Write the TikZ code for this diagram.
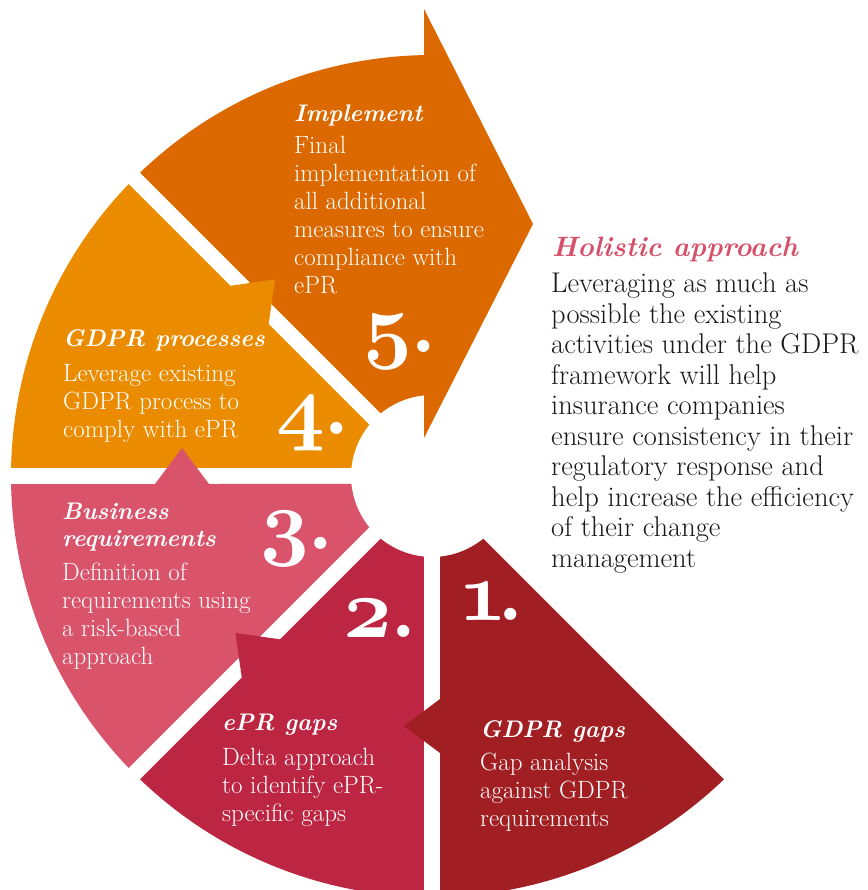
\documentclass[tikz,border=0pt]{standalone}
\usepackage{xcolor}
\usepackage{tikz}
\definecolor{gapscolor}{RGB}{161, 31, 35}
\definecolor{eprcolor}{RGB}{188, 38, 66}
\definecolor{businesscolor}{RGB}{217, 83, 107}
\definecolor{processcolor}{RGB}{235, 140, 0}
\definecolor{implementcolor}{RGB}{220, 105, 0}
\definecolor{holisticcolor}{RGB}{214, 80, 105}
\definecolor{notecolor}{RGB}{25, 25, 25}
% old style figures for the stage numbers
\font\stagedigits=cmmib10 at 85pt

\begin{document}
\begin{tikzpicture}[
    x=1pt, y=1pt,
    stagetitle/.style={anchor=base west, inner sep=0pt, align=left, text=white, font=\fontsize{24}{27}\selectfont\bfseries\itshape},
    stagetext/.style={anchor=base west, inner sep=0pt, align=left, text=white, font=\fontsize{25}{28}\selectfont},
    stagenum/.style={anchor=base west, inner sep=0pt, text=white, font=\fontsize{85}{85}\selectfont\bfseries},
    notetitle/.style={anchor=base west, inner sep=0pt, text=holisticcolor, font=\fontsize{28}{30}\selectfont\bfseries\itshape},
    notetext/.style={anchor=base west, inner sep=0pt, align=left, text=notecolor, font=\fontsize{28.5}{30.5}\selectfont},
]
    \useasboundingbox (-432,-414) rectangle (435,476);

    % Stage 5 with the big arrow head
    \fill[implementcolor, rotate=90] (1.09:421) arc[start angle=1.09, end angle=43.91, radius=421]
        -- (39.33:81) arc[start angle=39.33, end angle=5.67, radius=81] -- cycle
        (38,8) -- (467,8) -- (252,-101) -- cycle;

    % Stage 4
    \fill[processcolor, rotate=135] (1.09:421) arc[start angle=1.09, end angle=43.91, radius=421]
        -- (39.33:81) arc[start angle=39.33, end angle=5.67, radius=81] -- cycle
        (223,8) -- (277,8) -- (250,-28) -- cycle;

    % Stage 3
    \fill[businesscolor, rotate=180] (1.09:421) arc[start angle=1.09, end angle=43.91, radius=421]
        -- (39.33:81) arc[start angle=39.33, end angle=5.67, radius=81] -- cycle
        (223,8) -- (277,8) -- (250,-28) -- cycle;

    % Stage 2
    \fill[eprcolor, rotate=225] (1.09:421) arc[start angle=1.09, end angle=43.91, radius=421]
        -- (39.33:81) arc[start angle=39.33, end angle=5.67, radius=81] -- cycle
        (223,8) -- (277,8) -- (250,-28) -- cycle;

    % Stage 1
    \fill[gapscolor, rotate=-90] (1.09:421) arc[start angle=1.09, end angle=43.91, radius=421]
        -- (39.33:81) arc[start angle=39.33, end angle=5.67, radius=81] -- cycle
        (223,8) -- (277,8) -- (250,-28) -- cycle;

    % Stage labels (base is the last line of each block)
    \node[stagetitle] (implement) at (-138, 354) {Implement};
    \node[stagetext] (implementtext) at (-138, 182) {Final\\implementation of\\all additional\\measures to ensure\\compliance with\\ePR};
    \node[stagenum] (implementnum) at (-69, 123) {{\stagedigits 5}\kern-2pt.};

    \node[stagetitle] (processes) at (-369, 129) {GDPR processes};
    \node[stagetext] (processestext) at (-369, 38) {Leverage existing\\GDPR process to\\comply with ePR};
    \node[stagenum] (processesnum) at (-156, 41) {{\stagedigits 4}\kern-2pt.};

    \node[stagetitle] (business) at (-370, -71) {Business\\requirements};
    \node[stagetext] (businesstext) at (-370, -188) {Definition of\\requirements using\\a risk-based\\approach};
    \node[stagenum] (businessnum) at (-172, -74) {{\stagedigits 3}\kern-2pt.};

    \node[stagetitle] (eprgaps) at (-210, -254) {ePR gaps};
    \node[stagetext] (eprgapstext) at (-210, -345) {Delta approach\\to identify ePR-\\specific gaps};
    \node[stagenum] (eprgapsnum) at (-89, -161) {{\stagedigits 2}\kern-2pt.};

    \node[stagetitle] (gdprgaps) at (48, -261) {GDPR gaps};
    \node[stagetext] (gdprgapstext) at (48, -350) {Gap analysis\\against GDPR\\requirements};
    \node[stagenum] (gdprgapsnum) at (26, -144) {{\stagedigits 1}\kern-10pt.};

    % Side note
    \node[notetitle] (holistic) at (120, 219) {Holistic approach};
    \node[notetext] (holistictext) at (119, -91.5) {Leveraging as much as\\possible the existing\\activities under the GDPR\\framework will help\\insurance companies\\ensure consistency in their\\regulatory response and\\help increase the efficiency\\of their change\\management};
\end{tikzpicture}
\end{document}
